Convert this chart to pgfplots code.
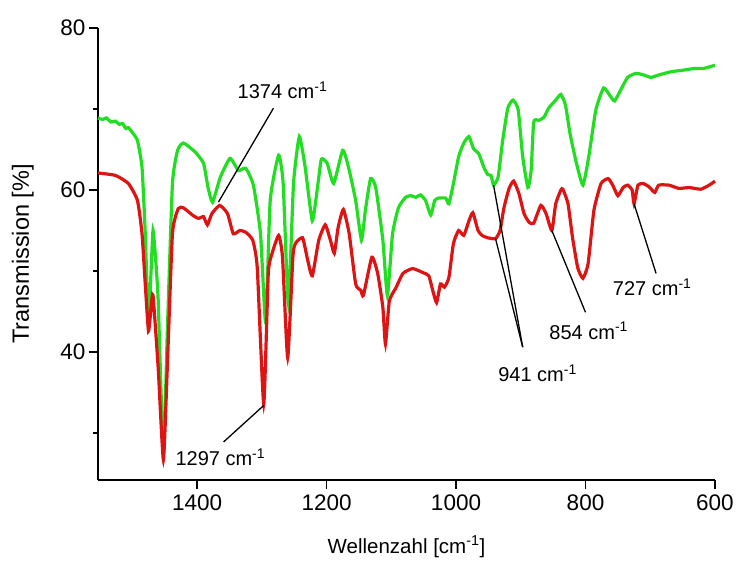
\documentclass[border=0pt]{standalone}
\usepackage{pgfplots}
\pgfplotsset{compat=1.18}
\usepackage{fontspec}
\setmainfont{Liberation Sans}
\definecolor{irgreen}{RGB}{34,221,34}
\definecolor{irred}{RGB}{221,20,20}
\begin{document}
\begin{tikzpicture}[x=1pt,y=1pt]
\path[use as bounding box] (-98,-80) rectangle (641,480);
\begin{axis}[
  scale only axis, width=617pt, height=452pt,
  x dir=reverse, xmin=600, xmax=1553, ymin=24.2, ymax=80,
  axis lines*=left, axis line style={line width=2.2pt},
  xtick={600,800,1000,1200,1400}, ytick={40,60,80}, minor ytick={30,50,70},
  tick align=outside, major tick length=9pt, minor tick length=5pt,
  every tick/.style={black, line width=1.8pt},
  /pgf/number format/assume math mode=true,
  /pgf/number format/1000 sep={},
  tick label style={font=\fontsize{22.5}{26}\selectfont},
  xticklabel style={yshift=-2pt},
  xlabel={Wellenzahl [cm\textsuperscript{-1}]},
  ylabel={Transmission [\%]},
  xlabel style={font=\fontsize{20.5}{24}\selectfont, at={(axis description cs:0.5,-0.148)}, anchor=center},
  ylabel style={font=\fontsize{23.5}{26}\selectfont, at={(axis description cs:-0.122,0.5)}, anchor=center, rotate=0},
  clip=false,
]
\addplot[irgreen, line width=3.2pt, smooth, tension=0.3] coordinates {
(1553,68.9)(1546,68.7)(1540,68.9)(1533,68.4)(1526,68.5)(1520,68.1)(1515,68.2)(1510,67.6)(1506,67.7)(1499,67.0)(1492,66.1)(1485,62.8)(1480,54.6)(1475,43.5)
(1471,50.0)(1468,55.0)(1464,51.5)(1460,46.3)(1452,27.4)(1446,42.3)(1438,60.8)(1430,64.9)(1421,65.8)
(1403,64.7)(1390,63.3)(1383,60.3)(1376,58.5)(1364,61.6)(1349,63.9)(1336,62.4)(1325,62.7)(1313,60.6)
(1302,54.6)(1294,43.6)(1287,58.7)(1274,64.3)(1267,60.8)(1259,46.0)(1251,60.8)(1242,66.6)(1233,62.8)
(1222,56.2)(1214,60.3)(1208,63.8)(1199,63.3)(1189,60.8)(1175,64.9)(1166,62.8)(1155,58.7)(1146,53.8)
(1140,57.5)(1132,61.4)(1124,60.3)(1113,53.8)(1106,47.0)(1098,54.6)(1089,57.8)(1078,59.1)(1070,59.3)
(1062,59.1)(1055,59.4)(1047,58.7)(1039,56.9)(1033,58.7)(1027,59.0)(1016,59.0)(1011,58.3)(1004,60.8)
(996,64.1)(988,65.8)(980,66.6)(973,65.1)(965,64.5)(957,62.8)(951,61.9)(946,61.8)(942,60.6)(935,61.6)
(928,66.1)(920,70.1)(912,71.1)(904,69.9)(897,64.1)(889,60.3)(884,62.4)(880,68.4)(872,68.6)(864,69.0)
(857,70.1)(846,71.1)(838,71.8)(831,70.5)(824,67.0)(814,63.3)(804,60.6)(795,64.1)(784,69.9)(772,72.6)
(761,71.5)(755,71.0)(746,72.3)(735,73.9)(722,74.4)(710,74.2)(699,73.9)(687,74.2)(668,74.6)(649,74.8)
(632,75.0)(618,75.0)(600,75.4)
};
\addplot[irred, line width=3.2pt, smooth, tension=0.3] coordinates {
(1553,62.1)(1526,61.8)(1506,60.8)(1492,58.7)(1485,54.6)(1480,48.4)(1475,42.6)(1471,45.5)(1468,47.0)
(1460,38.0)(1452,26.7)(1446,38.0)(1438,54.6)(1429,57.7)(1421,57.8)(1407,56.9)(1398,56.5)(1390,56.7)
(1384,55.7)(1377,57.1)(1365,58.1)(1353,57.1)(1344,54.6)(1334,55.0)(1325,54.8)(1314,53.8)(1307,50.4)
(1297,33.6)(1290,49.7)(1284,52.2)(1274,54.4)(1268,51.7)(1260,39.3)(1252,51.7)(1248,53.4)(1237,54.1)
(1229,51.3)(1222,49.4)(1212,53.8)(1202,55.7)(1194,53.8)(1188,52.2)(1182,55.4)(1174,57.6)(1165,54.6)
(1155,48.4)(1147,47.6)(1143,47.0)(1130,51.7)(1121,49.7)(1113,45.5)(1109,41.0)(1103,46.3)(1093,47.9)
(1082,49.7)(1067,50.3)(1051,49.8)(1042,49.4)(1036,47.6)(1030,46.1)(1024,48.4)(1018,48.0)(1011,49.2)
(1004,53.4)(996,55.0)(988,54.4)(980,56.2)(974,57.2)(966,55.0)(960,54.4)(951,54.1)(939,54.0)(932,55.0)
(926,57.8)(918,60.2)(911,61.1)(903,59.6)(895,57.1)(887,56.0)(880,55.9)(869,58.1)(861,57.1)(852,55.0)
(846,58.3)(838,60.0)(835,60.1)(827,58.3)(820,54.1)(812,50.4)(804,49.1)(796,50.9)(787,57.5)(776,60.8)
(765,61.4)(758,60.6)(750,59.3)(742,60.3)(735,60.6)(728,60.0)(725,58.3)(719,60.6)(711,60.8)(702,60.4)
(693,59.7)(687,60.6)(671,60.6)(656,60.2)(640,60.3)(622,60.1)(609,60.6)(600,61.1)
};
\draw[black, line width=1.3pt] (axis cs:1367,58.5) -- (axis cs:1282,70.1);
\node[font=\fontsize{20}{24}\selectfont] at (axis cs:1268,72.3) {1374 cm\textsuperscript{-1}};
\draw[black, line width=1.3pt] (axis cs:1297,33.4) -- (axis cs:1359,28.9);
\node[font=\fontsize{20}{24}\selectfont] at (axis cs:1364,27.0) {1297 cm\textsuperscript{-1}};
\draw[black, line width=1.3pt] (axis cs:942,60.6) -- (axis cs:897,40.6);
\draw[black, line width=1.3pt] (axis cs:939,54.0) -- (axis cs:897,40.6);
\node[font=\fontsize{20}{24}\selectfont] at (axis cs:874,37.4) {941 cm\textsuperscript{-1}};
\draw[black, line width=1.3pt] (axis cs:852,55.0) -- (axis cs:800,44.9);
\node[font=\fontsize{20}{24}\selectfont] at (axis cs:795,42.6) {854 cm\textsuperscript{-1}};
\draw[black, line width=1.3pt] (axis cs:725,58.3) -- (axis cs:691,49.7);
\node[font=\fontsize{20}{24}\selectfont] at (axis cs:697,48.0) {727 cm\textsuperscript{-1}};
\end{axis}
\end{tikzpicture}
\end{document}
